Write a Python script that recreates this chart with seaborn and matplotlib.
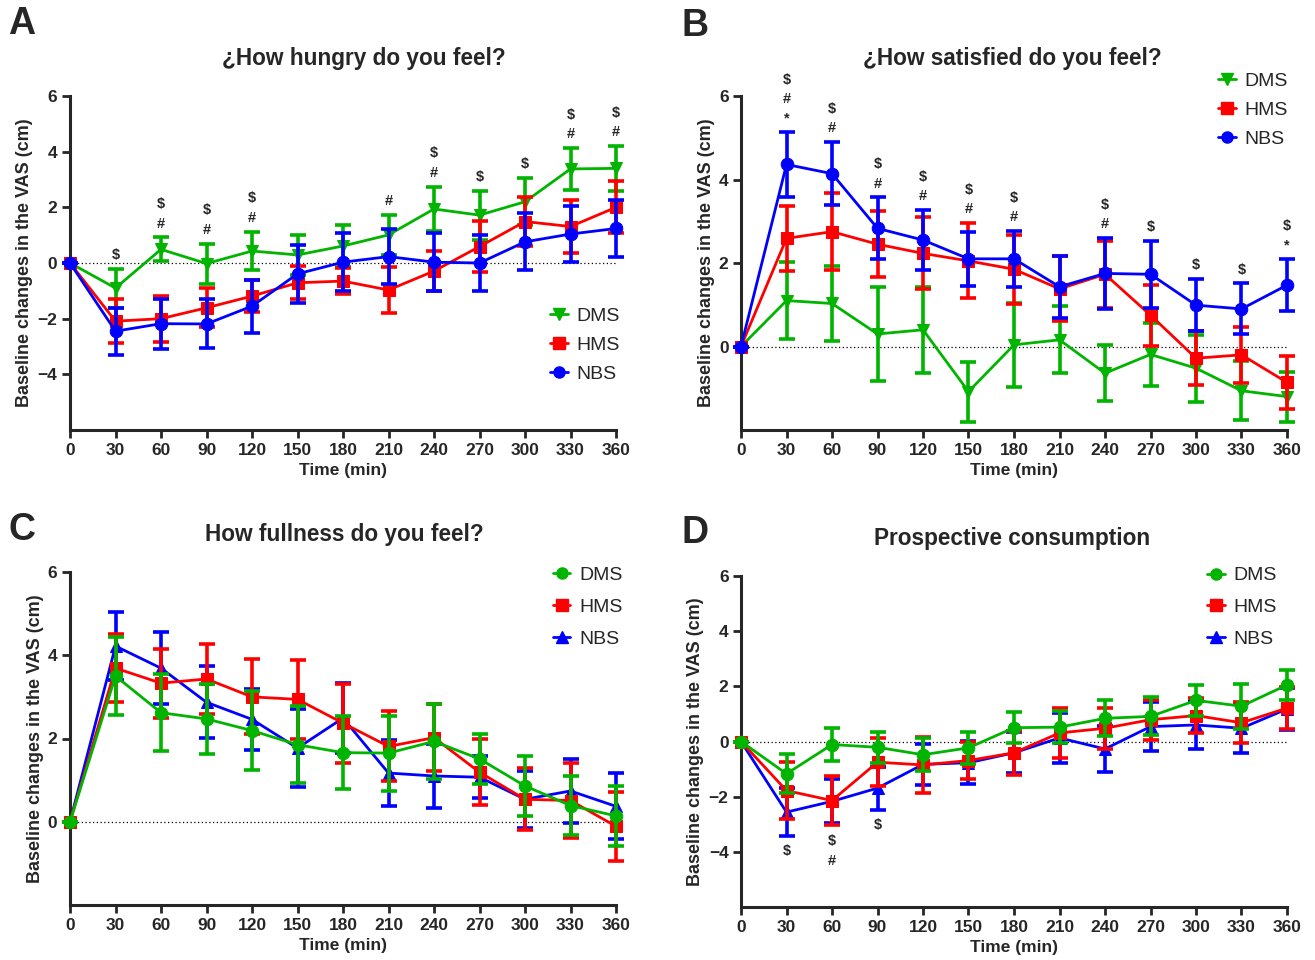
import numpy as np
import pandas as pd
import matplotlib
matplotlib.use('Agg')
import matplotlib.pyplot as plt
import seaborn as sns
from matplotlib.lines import Line2D

time = [0, 30, 60, 90, 120, 150, 180, 210, 240, 270, 300, 330, 360]
groups = ['DMS', 'HMS', 'NBS']

# A - hunger
hungry_dms = [0, -0.9, 0.49, -0.02, 0.43, 0.29, 0.61, 1.01, 1.94, 1.72, 2.2, 3.38, 3.4]
hungry_dms_sem = [0, 0.7, 0.43, 0.72, 0.69, 0.72, 0.76, 0.71, 0.8, 0.88, 0.84, 0.75, 0.8]
hungry_hms = [0, -2.09, -2.0, -1.61, -1.19, -0.71, -0.65, -0.97, -0.29, 0.59, 1.49, 1.31, 2.0]
hungry_hms_sem = [0, 0.78, 0.83, 0.7, 0.58, 0.6, 0.48, 0.82, 0.72, 0.93, 0.87, 0.96, 0.93]
hungry_nbs = [0, -2.45, -2.18, -2.19, -1.55, -0.39, 0.03, 0.23, 0.03, 0.0, 0.76, 1.04, 1.24]
hungry_nbs_sem = [0, 0.84, 0.9, 0.88, 0.95, 1.03, 1.04, 1.0, 1.05, 1.02, 1.02, 1.0, 1.03]
hungry_marks = {30: '$', 60: '$#', 90: '$#', 120: '$#', 210: '#', 240: '$#',
                270: '$', 300: '$', 330: '$#', 360: '$#'}

# B - satiety
sat_dms = [0, 1.1, 1.03, 0.3, 0.4, -1.08, 0.04, 0.16, -0.64, -0.19, -0.52, -1.06, -1.2]
sat_dms_sem = [0, 0.93, 0.9, 1.13, 1.03, 0.72, 1.0, 0.8, 0.67, 0.75, 0.8, 0.71, 0.6]
sat_hms = [0, 2.59, 2.75, 2.45, 2.23, 2.05, 1.85, 1.38, 1.73, 0.75, -0.28, -0.2, -0.86]
sat_hms_sem = [0, 0.77, 0.92, 0.79, 0.86, 0.9, 0.83, 0.78, 0.8, 0.73, 0.65, 0.67, 0.63]
sat_nbs = [0, 4.36, 4.14, 2.83, 2.55, 2.1, 2.1, 1.43, 1.75, 1.73, 0.99, 0.9, 1.47]
sat_nbs_sem = [0, 0.77, 0.76, 0.74, 0.72, 0.64, 0.67, 0.74, 0.84, 0.8, 0.62, 0.61, 0.62]
sat_marks = {30: '$#*', 60: '$#', 90: '$#', 120: '$#', 150: '$#', 180: '$#', 240: '$#',
             270: '$', 300: '$', 330: '$', 360: '$*'}

# C - fullness
full_dms = [0, 3.5, 2.62, 2.47, 2.19, 1.85, 1.66, 1.65, 1.93, 1.51, 0.86, 0.39, 0.14]
full_dms_sem = [0, 0.93, 0.92, 0.85, 0.94, 0.93, 0.88, 0.9, 0.91, 0.6, 0.73, 0.72, 0.72]
full_hms = [0, 3.69, 3.33, 3.43, 3.0, 2.94, 2.37, 1.81, 2.02, 1.19, 0.54, 0.51, -0.11]
full_hms_sem = [0, 0.82, 0.83, 0.83, 0.9, 0.95, 0.95, 0.84, 0.8, 0.79, 0.74, 0.9, 0.83]
full_nbs = [0, 4.22, 3.69, 2.87, 2.46, 1.77, 2.49, 1.17, 1.1, 1.07, 0.54, 0.74, 0.37]
full_nbs_sem = [0, 0.82, 0.86, 0.86, 0.73, 0.94, 0.85, 0.79, 0.76, 0.51, 0.68, 0.76, 0.79]

# D - prospective consumption
pros_dms = [0, -1.17, -0.11, -0.21, -0.48, -0.23, 0.5, 0.52, 0.84, 0.91, 1.49, 1.28, 2.05]
pros_dms_sem = [0, 0.71, 0.61, 0.57, 0.6, 0.59, 0.56, 0.57, 0.65, 0.69, 0.56, 0.82, 0.55]
pros_hms = [0, -1.78, -2.14, -0.75, -0.85, -0.69, -0.41, 0.31, 0.48, 0.79, 0.94, 0.68, 1.21]
pros_hms_sem = [0, 1.03, 0.9, 0.86, 1.0, 0.66, 0.8, 0.9, 0.75, 0.73, 0.63, 0.75, 0.75]
pros_nbs = [0, -2.56, -2.17, -1.69, -0.83, -0.77, -0.41, 0.13, -0.27, 0.54, 0.6, 0.48, 1.18]
pros_nbs_sem = [0, 0.87, 0.8, 0.78, 0.75, 0.78, 0.75, 0.9, 0.82, 0.9, 0.86, 0.9, 0.75]
pros_marks = {30: '$', 60: '$#', 90: '$'}

colors = {'DMS': '#00B400', 'HMS': '#FF0000', 'NBS': '#0000FF'}

sns.set_style('ticks')
plt.rcParams['font.family'] = ['Liberation Sans', 'DejaVu Sans']


def draw_panel(ax, means, sems, markers, order, title, title_x, ylim, yticks,
               marks, marks_below, leg_anchor, leg_space):
    rows = []
    for g in groups:
        for t, m in zip(time, means[g]):
            rows.append({'time': t, 'value': m, 'group': g})
    df = pd.DataFrame(rows)

    for i, g in enumerate(order):
        sub = df[df['group'] == g]
        ax.errorbar(sub['time'], sub['value'], yerr=sems[g], fmt='none',
                    ecolor=colors[g], elinewidth=2.6, capsize=5.5, capthick=2.6,
                    zorder=2 + i, clip_on=False)
        sns.lineplot(data=sub, x='time', y='value', color=colors[g], marker=markers[g],
                     markersize=9, markeredgecolor=colors[g], linewidth=2.0,
                     ax=ax, zorder=2 + i, clip_on=False, legend=False)

    ax.axhline(0, color='black', linestyle=(0, (1, 2)), linewidth=0.9, zorder=1)
    ax.set_xlim(0, 360)
    ax.set_ylim(*ylim)
    ax.set_xticks(time)
    ax.set_yticks(yticks)
    ax.set_xlabel('Time (min)', fontsize=12.5, fontweight='bold', labelpad=4)
    ax.set_ylabel('Baseline changes in the VAS (cm)', fontsize=13, fontweight='bold', labelpad=3)
    for lbl in ax.get_xticklabels() + ax.get_yticklabels():
        lbl.set_fontweight('bold')
    ax.tick_params(axis='both', labelsize=12.5, width=2, length=6, pad=3)
    for side in ['left', 'bottom']:
        ax.spines[side].set_linewidth(2.2)
    sns.despine(ax=ax)
    ax.text(title_x, 1.112, title, transform=ax.transAxes, ha='center', va='center',
            fontsize=16.3, fontweight='bold')

    # significance symbols
    for t, syms in marks.items():
        k = time.index(t)
        if marks_below:
            base = min(means[g][k] - sems[g][k] for g in groups)
            for j, s in enumerate(syms):
                ax.annotate(s, (t, base), xytext=(0, -11 - 15 * j), textcoords='offset points',
                            ha='center', va='center', fontsize=10.5, fontweight='bold')
        else:
            base = max(means[g][k] + sems[g][k] for g in groups)
            for j, s in enumerate(syms[::-1]):
                ax.annotate(s, (t, base), xytext=(0, 10 + 14 * j), textcoords='offset points',
                            ha='center', va='center', fontsize=10.5, fontweight='bold',
                            annotation_clip=False)

    handles = [Line2D([0], [0], color=colors[g], marker=markers[g], markersize=8,
                      linewidth=2) for g in groups]
    ax.legend(handles, groups, loc='center left', bbox_to_anchor=leg_anchor, frameon=False,
              fontsize=14, handlelength=0.9, handletextpad=0.45, labelspacing=leg_space,
              borderaxespad=0)


fig = plt.figure(figsize=(13.15, 9.6), dpi=100)
W, H = 1315, 960
pos = {
    'A': [70 / W, 1 - 430 / H, 546 / W, 334 / H],
    'B': [741 / W, 1 - 430 / H, 546 / W, 334 / H],
    'C': [70 / W, 1 - 905 / H, 546 / W, 333 / H],
    'D': [741 / W, 1 - 907 / H, 546 / W, 331 / H],
}

mk_ab = {'DMS': 'v', 'HMS': 's', 'NBS': 'o'}
mk_cd = {'DMS': 'o', 'HMS': 's', 'NBS': '^'}

ax = fig.add_axes(pos['A'])
draw_panel(ax, {'DMS': hungry_dms, 'HMS': hungry_hms, 'NBS': hungry_nbs},
           {'DMS': hungry_dms_sem, 'HMS': hungry_hms_sem, 'NBS': hungry_nbs_sem},
           mk_ab, ['DMS', 'HMS', 'NBS'], '¿How hungry do you feel?', 0.538,
           (-6, 6), [-4, -2, 0, 2, 4, 6], hungry_marks, False, (0.865, 0.255), 0.58)

ax = fig.add_axes(pos['B'])
draw_panel(ax, {'DMS': sat_dms, 'HMS': sat_hms, 'NBS': sat_nbs},
           {'DMS': sat_dms_sem, 'HMS': sat_hms_sem, 'NBS': sat_nbs_sem},
           mk_ab, ['DMS', 'HMS', 'NBS'], '¿How satisfied do you feel?', 0.497,
           (-2, 6), [0, 2, 4, 6], sat_marks, False, (0.86, 0.958), 0.58)

ax = fig.add_axes(pos['C'])
draw_panel(ax, {'DMS': full_dms, 'HMS': full_hms, 'NBS': full_nbs},
           {'DMS': full_dms_sem, 'HMS': full_hms_sem, 'NBS': full_nbs_sem},
           mk_cd, ['NBS', 'HMS', 'DMS'], 'How fullness do you feel?', 0.502,
           (-2, 6), [0, 2, 4, 6], {}, False, (0.87, 0.895), 0.75)

ax = fig.add_axes(pos['D'])
draw_panel(ax, {'DMS': pros_dms, 'HMS': pros_hms, 'NBS': pros_nbs},
           {'DMS': pros_dms_sem, 'HMS': pros_hms_sem, 'NBS': pros_nbs_sem},
           mk_cd, ['NBS', 'HMS', 'DMS'], 'Prospective consumption', 0.496,
           (-6, 6), [-4, -2, 0, 2, 4, 6], pros_marks, True, (0.84, 0.906), 0.72)

for letter, x, y in [('A', 22, 24), ('B', 695, 26), ('C', 22, 530), ('D', 695, 533)]:
    fig.text(x / W, 1 - y / H, letter, ha='center', va='center', fontsize=27, fontweight='bold')

fig.savefig('out.png', dpi=100)
